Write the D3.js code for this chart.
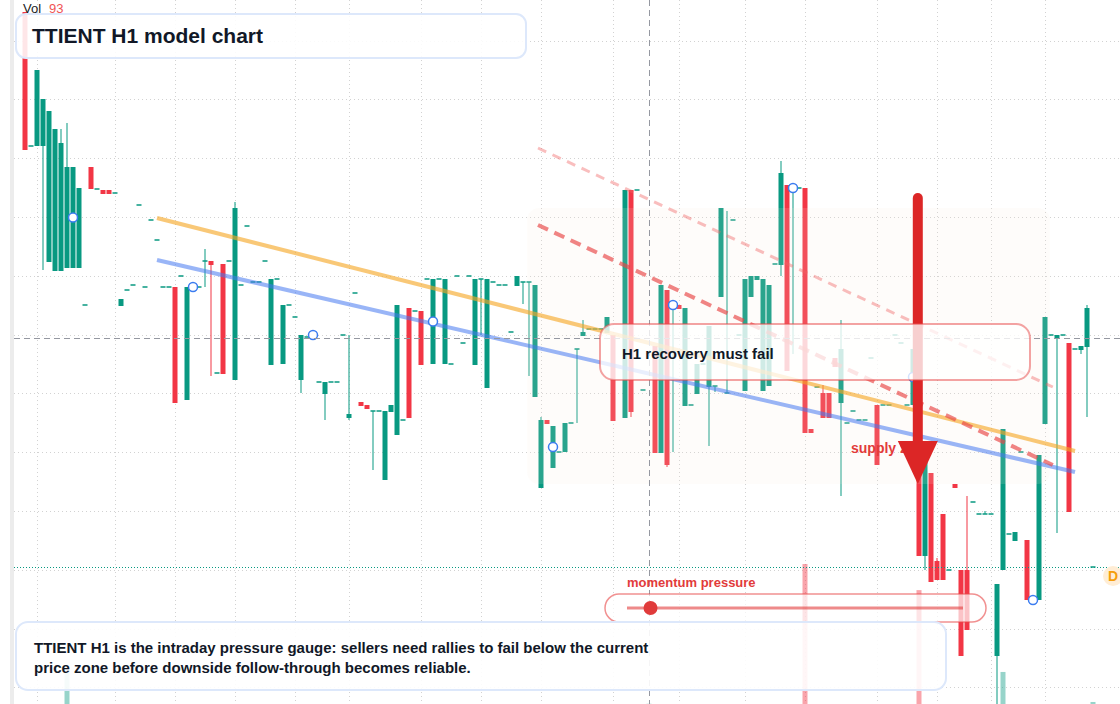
<!DOCTYPE html>
<html>
<head>
<meta charset="utf-8">
<script src="https://d3js.org/d3.v7.min.js"></script>
<style>
  html, body { margin: 0; padding: 0; background: #fff; }
  svg { display: block; font-family: "Liberation Sans", Arial, sans-serif; }
</style>
</head>
<body>
<svg id="chart"></svg>
<script>
// hourly bars, [open, high, low, close]; a single value = flat bar, null = no trade
var ohlc = [
  [98.8,98.8,85.0,85.0], [85.4], [85.4,93.0,85.4,93.0], [85.4,90.1,73.0,90.1], [73.8,88.9,73.8,88.9],
  [72.9,87.1,72.9,87.1], [72.9,87.1,72.9,85.7], [73.2,87.7,73.2,83.3], [73.2,83.3,73.2,83.3], [73.2,81.2,73.2,81.2],
  [69.5], [83.3,83.3,81.1,81.1], [81.1], [81.0,81.0,80.6,80.6], [81.0,81.0,80.6,80.6],
  [80.7], [69.4,70.1,69.4,70.1], [71.0], [71.5], [79.5],
  [71.3], [78.0], [76.0], [71.3], [71.3],
  [71.3,71.3,59.7,59.7], [72.4], [60.0,71.3,60.0,71.3], [71.3], [71.3],
  [73.9,75.1,71.3,73.9], [73.9,73.9,62.4,73.5], [62.7], [73.6,73.6,62.6,62.6], [73.9],
  [62.0,79.8,62.0,79.2], [71.5], [77.4], [71.8], [71.8],
  [73.9], [63.5,72.1,63.5,72.1], [72.1], [63.6,69.5,63.6,69.5], [69.5],
  [68.3], [62.0,66.5,60.7,66.5], [66.3], [66.5], [61.8],
  [60.6,61.8,58.0,61.8], [61.8], [61.8], [66.5], [58.2,66.5,58.0,58.6],
  [70.7], [59.8,59.8,59.4,59.4], [59.5,59.5,59.1,59.1], [58.9,58.9,53.0,58.9], [58.9],
  [52.0,58.9,52.0,58.9], [58.8,59.5,58.8,59.5], [56.5,69.5,56.5,69.5], [58.0], [69.2,69.2,58.2,58.2],
  [68.9], [68.9,68.9,63.5,63.5], [72.1], [63.6,72.1,63.6,72.1], [72.1],
  [63.6,72.1,63.6,72.1], [63.6], [72.4], [65.7], [72.4],
  [63.5,72.1,63.5,72.1], [72.1,72.1,66.5,72.1], [61.2,72.1,61.2,72.1], [71.8], [71.5],
  [71.5], [66.8], [71.4,72.4,71.4,72.4], [71.8,71.8,69.6,71.8], [71.8,71.8,62.4,71.8],
  [60.3,71.5,60.3,71.5], [51.2,58.3,51.2,58.0], [58.0,58.0,57.6,57.6], [53.2,57.4,53.2,57.4], [54.8],
  [54.8,57.7,54.8,57.7], [57.7], [65.1,65.1,57.7,65.1], [66.4,68.0,66.4,66.8], [67.1],
  [67.1], [67.1], [66.7,68.3,66.7,68.3], [66.5,66.5,57.9,57.9], null,
  [58.2,81.0,58.2,81.0], [81.0,81.0,58.3,58.8], [81.0], [61.0], null,
  [65.4,65.4,54.7,54.7], [54.7,71.5,54.7,71.5], [71.0,71.0,53.3,53.5], [69.5,69.5,54.8,69.5], [69.5,69.5,69.1,69.1],
  [59.4,69.2,59.4,69.2], [59.5], [60.6,63.6,60.6,63.6], [63.6], [61.3,67.4,55.4,67.4],
  [61.4,61.4,60.8,61.4], [70.3,79.2,70.3,79.2], [60.7,78.9,60.7,60.7], [78.0], [66.5],
  [60.9,72.1,60.9,72.1], [70.3,72.4,70.3,72.4], [72.0,72.4,72.0,72.4], [60.9,72.1,60.9,72.1], [61.4,71.5,61.4,71.5],
  [73.6], [73.5,83.9,72.4,82.7], [81.5,81.5,62.9,62.9], [81.2,81.2,64.6,81.2], [81.2],
  [81.2,81.2,56.7,56.7], [57.1,57.1,56.7,56.7], [61.3], [60.7,61.5,58.2,58.2], [60.7,60.7,58.2,58.2],
  [64.2,64.2,63.3,63.3], [59.7,68.0,50.4,65.1], [57.7], [58.9], [58.0],
  [58.0], [64.2], [59.5,59.5,53.5,53.5], [59.5], [59.5],
  [66.5], [65.7], [59.5], [59.5,65.1,59.5,65.1], [56.0,56.0,44.4,44.4],
  [44.4,55.5,43.0,55.5], [52.7,52.7,41.8,41.8], [43.9,44.2,42.0,42.0], [48.6,48.6,42.0,42.0], [43.0],
  [51.6,51.6,51.2,51.2], [43.0,43.0,34.4,34.4], [43.0,50.4,37.0,37.0], [49.8], [48.6],
  [48.6,48.9,48.6,48.6], [48.6], [34.4,41.6,29.5,41.6], [43.0,57.1,43.0,57.1], [46.6],
  [45.9,46.8,45.9,46.8], [54.8], [46.0,46.0,40.0,40.0], [40.0], [40.0,54.5,40.0,54.5],
  [57.6,68.3,57.6,68.3], [66.5], [66.2,66.5,46.7,66.5], [66.5], [65.7,65.7,48.8,48.8],
  [65.1], [65.0,65.4,64.6,65.4], [65.3,69.5,58.3,69.2], [43.3]
];

// volume is near zero except on these bars: [bar, volume]
var volumeSpikes = [[7, 11900], [104, 93], [130, 52000], [149, 42300], [163, 11900], [178, 750]];

var markerBars = [8, 28, 48, 68, 88, 108, 128, 148, 168];

var gridBars = [2, 15, 25, 35, 45, 54, 66, 76, 86, 98, 109, 120, 130, 142, 152, 161, 170];
var gridPrices = [95.95, 90.07, 84.19, 78.31, 72.43, 66.55, 60.67, 54.79, 48.91, 43.03, 37.15, 31.27];

// trend lines, [bar, price] end points
var resistLine = [[22, 78.2], [175, 54.9]];
var supportLine = [[22, 74.0], [175, 52.8]];
var channelLow = [[85.5, 77.5], [171.3, 53.5]];
var channelHigh = [[85.5, 85.2], [171.3, 61.3]];
var zone = {from: 83.7, to: 170.8, top: 79.2, bottom: 51.6};
var arrowSig = {bar: 148.8, from: 80.2, head: 55.9, to: 51.6};

var crossBar = 104, crossPrice = 66.2;
var momentum = 0.07;

var width = 1120, height = 704;
var upColor = "#089981", downColor = "#f23645";

var svg = d3.select("#chart").attr("width", width).attr("height", height);

var x = d3.scaleLinear().domain([0, 178]).range([25, 1093]);
var y = d3.scaleLinear().domain([100, 29.6]).range([0, 704]);
var yVol = d3.scaleLinear().domain([0, 52000]).range([704, 564]);

var bars = ohlc.map(function(r, i){
  if (!r) return null;
  if (r.length === 1) return {i: i, o: r[0], h: r[0], l: r[0], c: r[0]};
  return {i: i, o: r[0], h: r[1], l: r[2], c: r[3]};
}).filter(function(d){ return d; });
var byIndex = {};
bars.forEach(function(d){ byIndex[d.i] = d; });

svg.append("defs").append("clipPath").attr("id", "plot")
   .append("rect").attr("x", 14).attr("y", 0).attr("width", width - 14).attr("height", height);

// left edge strip
svg.append("rect").attr("x", 10).attr("y", 0).attr("width", 4).attr("height", height).attr("fill", "#ececec");

var plot = svg.append("g").attr("clip-path", "url(#plot)");

// grid
plot.selectAll("line.hgrid")
   .data(gridPrices)
   .enter()
   .append("line")
   .attr("x1", 14).attr("x2", width)
   .attr("y1", function(d){ return Math.round(y(d)) + 0.5; })
   .attr("y2", function(d){ return Math.round(y(d)) + 0.5; })
   .attr("stroke", "#d2d2d2")
   .attr("stroke-dasharray", "1,3");

plot.selectAll("line.vgrid")
   .data(gridBars)
   .enter()
   .append("line")
   .attr("x1", function(d){ return Math.round(x(d)) + 0.5; })
   .attr("x2", function(d){ return Math.round(x(d)) + 0.5; })
   .attr("y1", 0).attr("y2", height)
   .attr("stroke", "#d2d2d2")
   .attr("stroke-dasharray", "1,3");

// volume
plot.selectAll("rect.vol")
   .data(volumeSpikes)
   .enter()
   .append("rect")
   .attr("x", function(d){ return x(d[0]) - 2.5; })
   .attr("y", function(d){ return yVol(d[1]); })
   .attr("width", 5)
   .attr("height", function(d){ return 704 - yVol(d[1]); })
   .attr("fill", function(d){
      var b = byIndex[d[0]];
      return (b && b.c < b.o) ? "rgba(242,54,69,0.45)" : "rgba(8,153,129,0.42)";
   });

// candles
var isUp = function(d){ return d.c >= d.o; };

plot.selectAll("rect.wick")
   .data(bars.filter(function(d){ return d.h > Math.max(d.o, d.c) || d.l < Math.min(d.o, d.c); }))
   .enter()
   .append("rect")
   .attr("x", function(d){ return x(d.i) - 0.5; })
   .attr("y", function(d){ return y(d.h); })
   .attr("width", 1)
   .attr("height", function(d){ return y(d.l) - y(d.h); })
   .attr("fill", function(d){ return isUp(d) ? upColor : downColor; });

plot.selectAll("rect.body")
   .data(bars)
   .enter()
   .append("rect")
   .attr("x", function(d){ return x(d.i) - 2.5; })
   .attr("y", function(d){ return y(Math.max(d.o, d.c)) - (d.o === d.c ? 0.75 : 0); })
   .attr("width", 5)
   .attr("height", function(d){ return Math.max(1.5, Math.abs(y(d.o) - y(d.c))); })
   .attr("fill", function(d){ return isUp(d) ? upColor : downColor; });

// price zone wash
plot.append("rect")
   .attr("x", x(zone.from)).attr("y", y(zone.top))
   .attr("width", x(zone.to) - x(zone.from))
   .attr("height", y(zone.bottom) - y(zone.top))
   .attr("rx", 12)
   .attr("fill", "rgba(250,236,220,0.14)");

// trend lines
var line = d3.line().x(function(d){ return x(d[0]); }).y(function(d){ return y(d[1]); });

plot.append("path").attr("d", line(channelHigh))
   .attr("fill", "none").attr("stroke", "rgba(240,100,100,0.42)")
   .attr("stroke-width", 3).attr("stroke-dasharray", "9,7");
plot.append("path").attr("d", line(resistLine))
   .attr("fill", "none").attr("stroke", "rgba(245,166,35,0.62)").attr("stroke-width", 4);
plot.append("path").attr("d", line(supportLine))
   .attr("fill", "none").attr("stroke", "rgba(70,120,240,0.55)").attr("stroke-width", 4);
plot.append("path").attr("d", line(channelLow))
   .attr("fill", "none").attr("stroke", "rgba(232,70,70,0.66)")
   .attr("stroke-width", 4).attr("stroke-dasharray", "11,7");

// markers every 20 bars
plot.selectAll("circle.mark")
   .data(markerBars)
   .enter()
   .append("circle")
   .attr("cx", function(d){ return x(d); })
   .attr("cy", function(d){ var b = byIndex[d]; return y((b.o + b.c) / 2); })
   .attr("r", 4.5)
   .attr("fill", "#fff")
   .attr("stroke", "#3b7cf0")
   .attr("stroke-width", 1.5);

// last price line
var last = bars[bars.length - 1];
plot.append("line")
   .attr("x1", 14).attr("x2", width)
   .attr("y1", Math.round(y(last.c)) + 0.5).attr("y2", Math.round(y(last.c)) + 0.5)
   .attr("stroke", upColor).attr("stroke-dasharray", "1,2");

// crosshair
plot.append("line")
   .attr("x1", 14).attr("x2", width)
   .attr("y1", Math.round(y(crossPrice)) + 0.5).attr("y2", Math.round(y(crossPrice)) + 0.5)
   .attr("stroke", "#9598a1").attr("stroke-dasharray", "6,4");
plot.append("line")
   .attr("x1", Math.round(x(crossBar)) + 0.5).attr("x2", Math.round(x(crossBar)) + 0.5)
   .attr("y1", 0).attr("y2", height)
   .attr("stroke", "#9598a1").attr("stroke-dasharray", "6,4");

// supply zone label + signal arrow
svg.append("text")
   .attr("x", 851).attr("y", 453)
   .attr("font-size", 14).attr("font-weight", "bold")
   .attr("fill", "#e23b3b")
   .text("supply zone");

var ax = x(arrowSig.bar);
svg.append("line")
   .attr("x1", ax).attr("x2", ax)
   .attr("y1", y(arrowSig.from)).attr("y2", y(arrowSig.head) + 4)
   .attr("stroke", "#dc2626").attr("stroke-width", 10).attr("stroke-linecap", "round");
svg.append("path")
   .attr("d", "M" + (ax - 20) + "," + y(arrowSig.head) + "L" + (ax + 20) + "," + y(arrowSig.head) +
              "L" + ax + "," + y(arrowSig.to) + "Z")
   .attr("fill", "#dc2626");

// recovery note
svg.append("rect")
   .attr("x", 600).attr("y", 324).attr("width", 430).attr("height", 56).attr("rx", 14)
   .attr("fill", "rgba(255,255,255,0.78)")
   .attr("stroke", "rgba(232,72,72,0.5)").attr("stroke-width", 2);
svg.append("text")
   .attr("x", 622).attr("y", 359)
   .attr("font-size", 15).attr("font-weight", "bold").attr("fill", "#111827")
   .text("H1 recovery must fail");

// momentum gauge
var gauge = d3.scaleLinear().domain([0, 1]).range([627, 963]);
svg.append("text")
   .attr("x", 627).attr("y", 587)
   .attr("font-size", 13).attr("font-weight", "bold").attr("fill", "#e23b3b")
   .text("momentum pressure");
svg.append("rect")
   .attr("x", 605).attr("y", 594).attr("width", 381).attr("height", 28).attr("rx", 14)
   .attr("fill", "rgba(255,255,255,0.7)")
   .attr("stroke", "rgba(232,72,72,0.6)").attr("stroke-width", 1.5);
svg.append("line")
   .attr("x1", gauge(0)).attr("x2", gauge(1)).attr("y1", 608).attr("y2", 608)
   .attr("stroke", "rgba(226,60,60,0.6)").attr("stroke-width", 3);
svg.append("circle")
   .attr("cx", gauge(momentum)).attr("cy", 608).attr("r", 7)
   .attr("fill", "#e03b3b");

// caption
svg.append("rect")
   .attr("x", 16).attr("y", 622).attr("width", 930).attr("height", 68).attr("rx", 12)
   .attr("fill", "rgba(255,255,255,0.9)")
   .attr("stroke", "#dde8fb").attr("stroke-width", 2);
var caption = svg.append("text")
   .attr("font-size", 15).attr("font-weight", "bold").attr("fill", "#111827");
caption.append("tspan").attr("x", 34).attr("y", 653)
   .text("TTIENT H1 is the intraday pressure gauge: sellers need rallies to fail below the current");
caption.append("tspan").attr("x", 34).attr("y", 673)
   .text("price zone before downside follow-through becomes reliable.");

// title
svg.append("rect")
   .attr("x", 16).attr("y", 14).attr("width", 510).attr("height", 44).attr("rx", 10)
   .attr("fill", "rgba(255,255,255,0.88)")
   .attr("stroke", "#dde8fb").attr("stroke-width", 2);
svg.append("text")
   .attr("x", 32).attr("y", 43)
   .attr("font-size", 21).attr("font-weight", "bold").attr("fill", "#111827")
   .text("TTIENT H1 model chart");

// volume legend
var hoverVol = volumeSpikes.filter(function(d){ return d[0] === crossBar; })[0][1];
var legend = svg.append("text").attr("x", 23).attr("y", 13).attr("font-size", 13);
legend.append("tspan").attr("fill", "#222").text("Vol");
legend.append("tspan").attr("dx", 8).attr("fill", "#f05454").text(hoverVol);

// D badge
svg.append("circle").attr("cx", 1113).attr("cy", 576).attr("r", 10).attr("fill", "#ffedd5");
svg.append("text")
   .attr("x", 1113).attr("y", 581).attr("text-anchor", "middle")
   .attr("font-size", 14).attr("font-weight", "bold").attr("fill", "#f59e0b")
   .text("D");
</script>
</body>
</html>
